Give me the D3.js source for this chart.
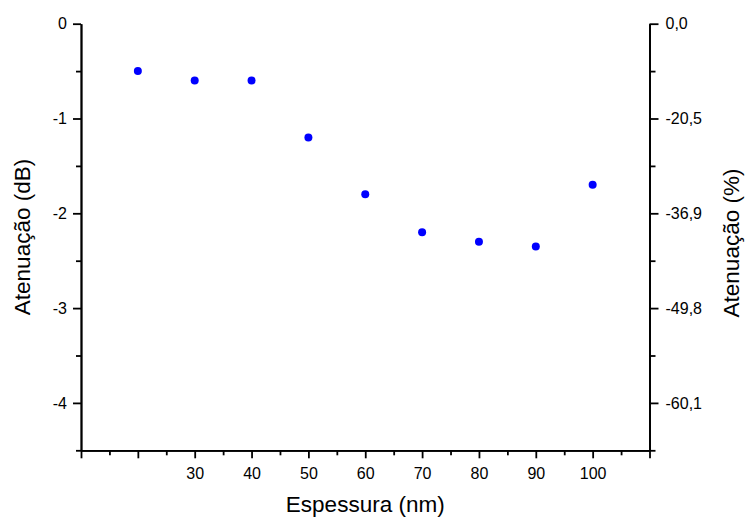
<!DOCTYPE html>
<html>
<head>
<meta charset="utf-8">
<script src="https://cdn.jsdelivr.net/npm/d3@7"></script>
<style>
  html, body { margin: 0; padding: 0; background: #fff; }
  svg { display: block; font-family: "Liberation Sans", Arial, sans-serif; }
  .axis path, .axis line { stroke: #000; stroke-width: 1.8; }
  .axis text { fill: #000; font-size: 16px; font-family: "Liberation Sans", Arial, sans-serif; }
  .title { fill: #000; font-size: 22.5px; }
</style>
</head>
<body>
<svg id="chart" width="747" height="517"></svg>
<script>
// Measured attenuation versus film thickness
const thickness = [20, 30, 40, 50, 60, 70, 80, 90, 100];      // nm
const attenuationDb = [-0.5, -0.6, -0.6, -1.2, -1.8, -2.2, -2.3, -2.35, -1.7];

// Axis ticks
const xMajorTicks = [10, 20, 30, 40, 50, 60, 70, 80, 90, 100, 110];
const xLabelledTicks = [30, 40, 50, 60, 70, 80, 90, 100];
const xMinorTicks = [15, 25, 35, 45, 55, 65, 75, 85, 95, 105];
const yMajorTicks = [0, -1, -2, -3, -4];
const yMinorTicks = [-0.5, -1.5, -2.5, -3.5, -4.5];
// Percentage equivalents of the dB ticks, shown on the right axis
const yRightLabels = ["0,0", "-20,5", "-36,9", "-49,8", "-60,1"];

const svg = d3.select("#chart");

const x = d3.scaleLinear().domain([10, 110]).range([81, 649.5]);
const y = d3.scaleLinear().domain([0, -4.5]).range([23.7, 450.3]);

const yBottom = y(-4.5);

// Bottom axis: minor ticks, then major ticks with labels
svg.append("g").attr("class", "axis")
  .attr("transform", `translate(0,${yBottom})`)
  .call(d3.axisBottom(x).tickValues(xMinorTicks).tickSize(5).tickSizeOuter(0).tickFormat(""));
svg.append("g").attr("class", "axis")
  .attr("transform", `translate(0,${yBottom})`)
  .call(d3.axisBottom(x).tickValues(xMajorTicks).tickSize(8).tickSizeOuter(0).tickPadding(9)
    .tickFormat(d => xLabelledTicks.includes(d) ? String(d) : ""));

// Left axis
svg.append("g").attr("class", "axis")
  .attr("transform", `translate(${x(10)},0)`)
  .call(d3.axisLeft(y).tickValues(yMinorTicks).tickSize(5).tickSizeOuter(0).tickFormat(""));
svg.append("g").attr("class", "axis")
  .attr("transform", `translate(${x(10)},0)`)
  .call(d3.axisLeft(y).tickValues(yMajorTicks).tickSize(8).tickSizeOuter(0).tickPadding(6)
    .tickFormat(d => String(d)));

// Right axis, same positions labelled in percent
svg.append("g").attr("class", "axis")
  .attr("transform", `translate(${x(110)},0)`)
  .call(d3.axisRight(y).tickValues(yMinorTicks).tickSize(6).tickSizeOuter(0).tickFormat(""));
svg.append("g").attr("class", "axis")
  .attr("transform", `translate(${x(110)},0)`)
  .call(d3.axisRight(y).tickValues(yMajorTicks).tickSize(9).tickSizeOuter(0).tickPadding(7)
    .tickFormat((d, i) => yRightLabels[i]));

svg.selectAll(".axis path").attr("fill", "none");

// Axis titles
svg.append("text").attr("class", "title")
  .attr("x", (x(10) + x(110)) / 2).attr("y", 512)
  .attr("text-anchor", "middle")
  .text("Espessura (nm)");

svg.append("text").attr("class", "title")
  .attr("transform", `translate(30,${(y(0) + y(-4.5)) / 2}) rotate(-90)`)
  .attr("text-anchor", "middle")
  .text("Atenuação (dB)");

svg.append("text").attr("class", "title")
  .attr("transform", `translate(739,${(y(0) + y(-4.5)) / 2 + 6}) rotate(-90)`)
  .attr("text-anchor", "middle")
  .text("Atenuação (%)");

// Data points
svg.append("g").selectAll("circle")
  .data(thickness.map((t, i) => [t, attenuationDb[i]]))
  .join("circle")
  .attr("cx", d => x(d[0]))
  .attr("cy", d => y(d[1]))
  .attr("r", 4)
  .attr("fill", "#0000ff");
</script>
</body>
</html>
